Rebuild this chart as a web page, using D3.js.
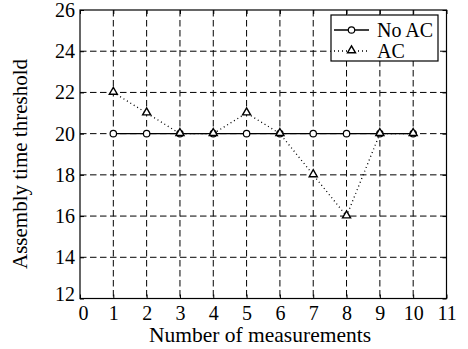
<!DOCTYPE html>
<html><head><meta charset="utf-8">
<script src="https://cdn.jsdelivr.net/npm/d3@7"></script>
<style>body{margin:0;background:#fff}svg{display:block}</style>
</head><body><svg id="c" width="468" height="349"></svg>
<script>
const measurements = [1,2,3,4,5,6,7,8,9,10];
const noAC = [20,20,20,20,20,20,20,20,20,20];
const ac = [22,21,20,20,21,20,18,16,20,20];
const xTicks = [0,1,2,3,4,5,6,7,8,9,10,11];
const yTicks = [12,14,16,18,20,22,24,26];
const seriesNames = ["No AC","AC"];
const FONT = "'Liberation Serif', 'DejaVu Serif', serif";

const svg = d3.select("#c");
const L=80, R=446.5, T=10, B=298.5;
const x = d3.scaleLinear().domain([0,11]).range([L,R]);
const y = d3.scaleLinear().domain([12,26]).range([B,T]);

const g = svg.append("g");
g.selectAll(".gx").data(xTicks.slice(1,-1)).join("line")
  .attr("x1",d=>x(d)).attr("x2",d=>x(d)).attr("y1",T).attr("y2",B)
  .attr("stroke","#000").attr("stroke-width",1).attr("stroke-dasharray","6.5,3.5");
g.selectAll(".gy").data(yTicks.slice(1,-1)).join("line")
  .attr("y1",d=>y(d)).attr("y2",d=>y(d)).attr("x1",L).attr("x2",R)
  .attr("stroke","#000").attr("stroke-width",1).attr("stroke-dasharray","6.5,3.5");

const fs = 20;
const ax = svg.append("g").attr("transform",`translate(0,${B})`)
  .call(d3.axisBottom(x).tickValues(xTicks).tickSize(-4).tickPadding(7).tickFormat(d3.format("d")));
const axT = svg.append("g").attr("transform",`translate(0,${T})`)
  .call(d3.axisTop(x).tickValues(xTicks).tickSize(-4).tickFormat(""));
const ay = svg.append("g").attr("transform",`translate(${L},0)`)
  .call(d3.axisLeft(y).tickValues(yTicks).tickSize(-4).tickPadding(5).tickFormat(d3.format("d")));
const ayR = svg.append("g").attr("transform",`translate(${R},0)`)
  .call(d3.axisRight(y).tickValues(yTicks).tickSize(-4).tickFormat(""));
[ax,axT,ay,ayR].forEach(a=>{a.select(".domain").remove();a.attr("font-family",FONT);a.selectAll("line").attr("stroke","#000");a.selectAll("text").attr("font-size",fs).style("font-family",FONT);});
ax.selectAll("text").filter(d=>d===0).attr("dx",3);
ay.selectAll("text").filter(d=>d===12).attr("dy","0.1em");
svg.append("rect").attr("x",L).attr("y",T).attr("width",R-L).attr("height",B-T)
  .attr("fill","none").attr("stroke","#000").attr("stroke-width",1.2);

svg.append("text").attr("x",260).attr("y",342).attr("text-anchor","middle").attr("font-size",21.5).style("font-family",FONT).text("Number of measurements");
svg.append("text").attr("transform",`translate(27,${164}) rotate(-90)`).attr("text-anchor","middle").attr("font-size",21).style("font-family",FONT).text("Assembly time threshold");

const line = d3.line().x((d,i)=>x(measurements[i])).y(d=>y(d));
svg.append("path").datum(noAC).attr("d",line).attr("fill","none").attr("stroke","#000").attr("stroke-width",1.3);
svg.append("path").datum(ac).attr("d",line).attr("fill","none").attr("stroke","#000").attr("stroke-width",1.3).attr("stroke-dasharray","1,3");
const tri = d3.symbol().type(d3.symbolTriangle).size(28);
svg.selectAll(".c").data(noAC).join("circle").attr("cx",(d,i)=>x(measurements[i])).attr("cy",d=>y(d)).attr("r",3.2)
  .attr("fill","#fff").attr("stroke","#000").attr("stroke-width",1.2);
svg.selectAll(".t").data(ac).join("path").attr("d",tri).attr("transform",(d,i)=>`translate(${x(measurements[i])},${y(d)-0.5})`)
  .attr("fill","#fff").attr("stroke","#000").attr("stroke-width",1.4);

const lg = svg.append("g");
lg.append("rect").attr("x",331).attr("y",15).attr("width",107).attr("height",46).attr("fill","#fff").attr("stroke","#000").attr("stroke-width",1.2);
lg.append("line").attr("x1",334).attr("x2",369).attr("y1",30).attr("y2",30).attr("stroke","#000").attr("stroke-width",1.3);
lg.append("circle").attr("cx",351.5).attr("cy",30).attr("r",3.2).attr("fill","#fff").attr("stroke","#000").attr("stroke-width",1.2);
lg.append("line").attr("x1",334).attr("x2",369).attr("y1",51).attr("y2",51).attr("stroke","#000").attr("stroke-width",1.3).attr("stroke-dasharray","1,3");
lg.append("path").attr("d",tri).attr("transform","translate(351.5,50.5)").attr("fill","#fff").attr("stroke","#000").attr("stroke-width",1.4);
lg.append("text").attr("x",377).attr("y",37).attr("font-size",fs).style("font-family",FONT).text(seriesNames[0]);
lg.append("text").attr("x",377).attr("y",58).attr("font-size",fs).style("font-family",FONT).text(seriesNames[1]);
</script></body></html>
